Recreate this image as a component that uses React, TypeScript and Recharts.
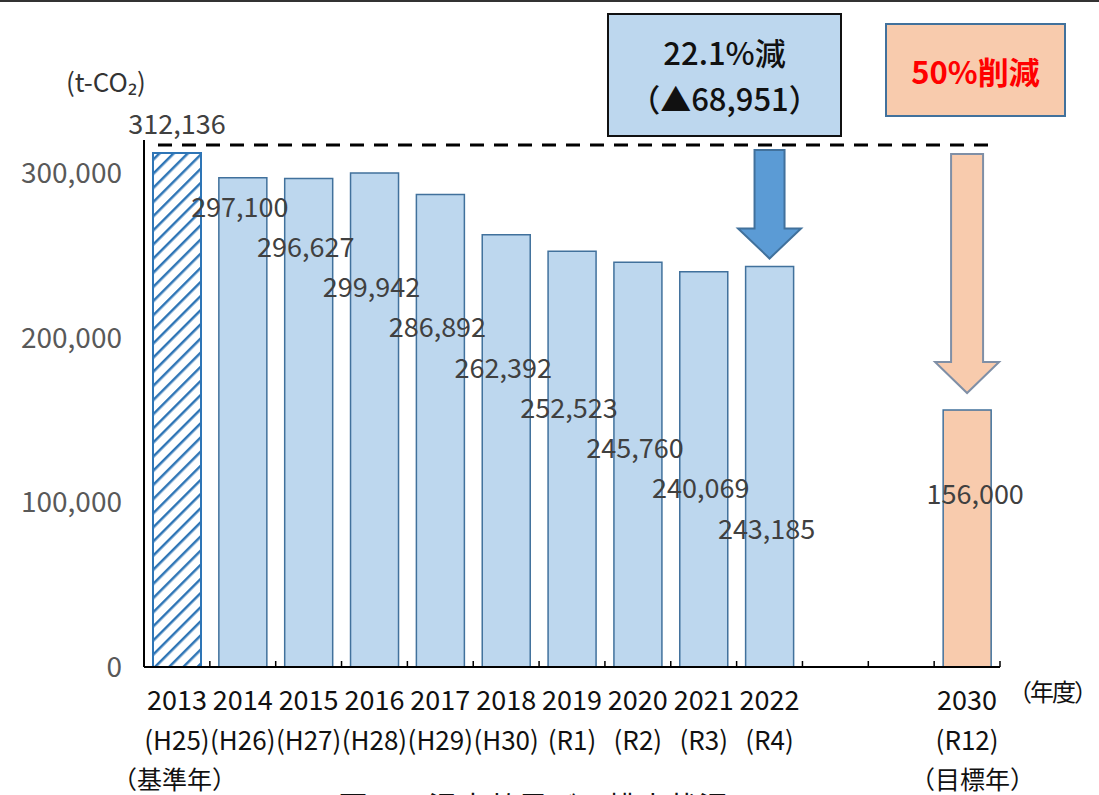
import React from 'react';
import { BarChart, Bar, XAxis, YAxis, Cell, LabelList, ReferenceLine, ReferenceArea } from 'recharts';

const years = ['2013', '2014', '2015', '2016', '2017', '2018', '2019', '2020', '2021', '2022', '', '', '2030'];
const eras = ['(H25)', '(H26)', '(H27)', '(H28)', '(H29)', '(H30)', '(R1)', '(R2)', '(R3)', '(R4)', '', '', '(R12)'];
const emissions = [312136, 297100, 296627, 299942, 286892, 262392, 252523, 245760, 240069, 243185, null, null, 156000];
const kinds = ['base', 'actual', 'actual', 'actual', 'actual', 'actual', 'actual', 'actual', 'actual', 'actual', 'gap', 'gap', 'target'];
const yTicks = [0, 100000, 200000, 300000];
const baseYear = '2013';
const latestYear = '2022';
const targetYear = '2030';

const FONT = '"Noto Sans CJK JP", "Noto Sans", sans-serif';
const W = 1099;
const H = 795;
const PLOT_LEFT = 144;
const PLOT_RIGHT = 1000;
const PLOT_BOTTOM = 667;
const BAND = (PLOT_RIGHT - PLOT_LEFT) / years.length;

const data = years.map((y, i) => ({
  key: y || `gap${i}`,
  value: emissions[i],
  kind: kinds[i],
}));

const fills: Record<string, string> = {
  base: 'url(#hatch)',
  actual: '#BDD7EE',
  target: '#F8CBAD',
  gap: 'none',
};

const fmt = (v: number) => v.toLocaleString('en-US');

function XTick(props: any) {
  const { x, payload } = props;
  const i = payload.index;
  return (
    <g>
      {i > 0 && (
        <line x1={x - BAND / 2} x2={x - BAND / 2} y1={PLOT_BOTTOM} y2={PLOT_BOTTOM - 6} stroke="#000" strokeWidth={1.5} />
      )}
      {i === years.length - 1 && (
        <line x1={x + BAND / 2} x2={x + BAND / 2} y1={PLOT_BOTTOM} y2={PLOT_BOTTOM - 6} stroke="#000" strokeWidth={1.5} />
      )}
      <text x={x} y={PLOT_BOTTOM + 31} textAnchor="middle" dominantBaseline="central" fontSize={27} fill="#111" fontFamily={FONT}>
        {years[i]}
      </text>
      <text x={x} y={PLOT_BOTTOM + 71} textAnchor="middle" dominantBaseline="central" fontSize={26} fill="#111" fontFamily={FONT}>
        {eras[i]}
      </text>
    </g>
  );
}

function ValueLabel(props: any) {
  const { x, y, width, value } = props;
  if (value == null) return null;
  const i = emissions.indexOf(value);
  const cx = x + width / 2;
  let tx = cx - 3;
  let ty = 205 + (i - 1) * 40.25;
  if (kinds[i] === 'base') {
    tx = cx;
    ty = y - 30;
  } else if (kinds[i] === 'target') {
    tx = cx + 8;
    ty = 492;
  }
  return (
    <text x={tx} y={ty} textAnchor="middle" dominantBaseline="central" fontSize={27} fill="#404040" fontFamily={FONT}>
      {fmt(value)}
    </text>
  );
}

function DownArrow(props: any, opts: { fill: string; stroke: string; top: number; gap: number; shaft: number; head: number; headH: number }) {
  const { x, y, width, height } = props;
  const cx = x + width / 2;
  const y0 = y + opts.top;
  const tip = y + height - opts.gap;
  const hb = tip - opts.headH;
  const s = opts.shaft / 2;
  const h = opts.head / 2;
  const d = `M${cx - s},${y0} L${cx + s},${y0} L${cx + s},${hb} L${cx + h},${hb} L${cx},${tip} L${cx - h},${hb} L${cx - s},${hb} Z`;
  return <path d={d} fill={opts.fill} stroke={opts.stroke} strokeWidth={2} />;
}

function BaseLine(props: any) {
  const { x1, x2, y1 } = props;
  return <line x1={x1 + 14} x2={x2 - 5} y1={y1 - 8} y2={y1 - 8} stroke="#000" strokeWidth={3} strokeDasharray="14 10" />;
}

export default function App() {
  return (
    <div style={{ position: 'absolute', left: 0, top: 0, width: W, height: H, overflow: 'hidden', background: '#fff', fontFamily: FONT }}>
      <div style={{ position: 'absolute', left: 0, top: 0, width: W, height: 2, background: '#333' }} />
      <BarChart width={W} height={H} data={data} margin={{ top: 140, right: 99, bottom: 98, left: 10 }}>
        <defs>
          <pattern id="hatch" patternUnits="userSpaceOnUse" width="10" height="10" patternTransform="rotate(45)">
            <rect width="10" height="10" fill="#fff" />
            <line x1="0" y1="0" x2="0" y2="10" stroke="#2E75B6" strokeWidth="5" />
          </pattern>
        </defs>
        <XAxis
          dataKey="key"
          interval={0}
          height={30}
          tickLine={false}
          axisLine={{ stroke: '#000', strokeWidth: 2 }}
          tick={<XTick />}
        />
        <YAxis
          width={134}
          domain={[0, 320000]}
          ticks={yTicks}
          tickLine={false}
          axisLine={{ stroke: '#000', strokeWidth: 2 }}
          tickMargin={16}
          tick={{ fill: '#595959', fontSize: 28, fontFamily: FONT }}
          tickFormatter={fmt}
        />
        <ReferenceLine y={emissions[0] as number} shape={BaseLine} ifOverflow="visible" />
        <ReferenceArea
          x1={latestYear}
          x2={latestYear}
          y1={emissions[years.indexOf(latestYear)] as number}
          y2={emissions[years.indexOf(baseYear)] as number}
          ifOverflow="visible"
          shape={(p: any) => DownArrow(p, { fill: '#5B9BD5', stroke: '#41719C', top: -3, gap: 8, shaft: 30, head: 63, headH: 30 })}
        />
        <ReferenceArea
          x1={targetYear}
          x2={targetYear}
          y1={emissions[years.indexOf(targetYear)] as number}
          y2={emissions[years.indexOf(baseYear)] as number}
          ifOverflow="visible"
          shape={(p: any) => DownArrow(p, { fill: '#F8CBAD', stroke: '#7F8FA6', top: 1, gap: 17, shaft: 32, head: 64, headH: 31 })}
        />
        <Bar dataKey="value" barSize={48} isAnimationActive={false}>
          {data.map((d, i) => (
            <Cell
              key={i}
              fill={fills[d.kind]}
              stroke={d.kind === 'base' ? '#2E75B6' : '#41719C'}
              strokeWidth={d.kind === 'base' ? 2 : 1.5}
            />
          ))}
          <LabelList dataKey="value" content={<ValueLabel />} />
        </Bar>
      </BarChart>

      <div style={{ position: 'absolute', left: 66, top: 62, fontSize: 26, color: '#333', whiteSpace: 'nowrap' }}>(t-CO₂)</div>
      <div style={{ position: 'absolute', left: 1008, top: 673, fontSize: 24, letterSpacing: -2, color: '#111', whiteSpace: 'nowrap' }}>（年度）</div>
      <div style={{ position: 'absolute', left: 112, top: 760, fontSize: 25, color: '#111', whiteSpace: 'nowrap' }}>（基準年）</div>
      <div style={{ position: 'absolute', left: 910, top: 760, fontSize: 25, color: '#111', whiteSpace: 'nowrap' }}>（目標年）</div>

      <div
        style={{
          position: 'absolute', left: 607, top: 13, width: 235, height: 124, boxSizing: 'border-box',
          background: '#BDD7EE', border: '2.5px solid #111', display: 'flex', flexDirection: 'column',
          alignItems: 'center', justifyContent: 'center', fontSize: 31, fontWeight: 500, color: '#111', lineHeight: '46px',
        }}
      >
        <div>22.1%減</div>
        <div>（▲68,951）</div>
      </div>
      <div
        style={{
          position: 'absolute', left: 885, top: 23, width: 181, height: 94, boxSizing: 'border-box',
          background: '#F8CBAD', border: '2px solid #41719C', display: 'flex',
          alignItems: 'center', justifyContent: 'center', fontSize: 31, fontWeight: 700, color: '#FF0000',
        }}
      >
        50%削減
      </div>

      <div style={{ position: 'absolute', left: 338, top: 783, fontSize: 30, color: '#111', whiteSpace: 'nowrap' }}>
        図１　温室効果ガス排出状況
      </div>
    </div>
  );
}
